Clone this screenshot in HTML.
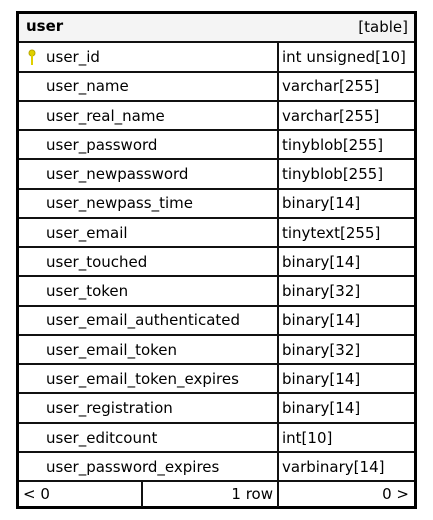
<!DOCTYPE html>
<html><head><meta charset="utf-8"><style>
body{margin:0;width:433px;height:520px;background:#fff;font-family:"DejaVu Sans","Liberation Sans",sans-serif;font-size:15px;color:#000;position:relative;overflow:hidden}
.o{position:absolute;left:16px;top:11px;width:401px;height:498px;border:3px solid #000;box-sizing:border-box;background:#fff}
.h{position:absolute;left:19px;top:14px;width:395px;height:28px;background:#f4f4f4}
.t{position:absolute;white-space:nowrap;line-height:16px}
.hl{position:absolute;left:19px;width:395px;height:2px;background:#111}
.vl{position:absolute;width:2px;background:#111}
</style></head><body>
<div class="o"></div>
<div class="h"></div>
<div class="hl" style="top:41px"></div>
<div class="t" style="left:26px;top:18px;font-weight:bold">user</div>
<div class="t" style="right:25px;top:19px">[table]</div>
<div class="vl" style="left:277px;top:42px;height:465px"></div>
<div class="vl" style="left:141px;top:481px;height:26px"></div>
<svg style="position:absolute;left:28px;top:49px" width="8" height="18"><circle cx="4" cy="4" r="3" fill="#e0d000" stroke="#b8a800"/><rect x="3" y="6" width="2" height="10" fill="#e0d000"/></svg>
<div id="rows"></div>
<script>
var r=[["user_id","int unsigned[10]"],["user_name","varchar[255]"],["user_real_name","varchar[255]"],["user_password","tinyblob[255]"],["user_newpassword","tinyblob[255]"],["user_newpass_time","binary[14]"],["user_email","tinytext[255]"],["user_touched","binary[14]"],["user_token","binary[32]"],["user_email_authenticated","binary[14]"],["user_email_token","binary[32]"],["user_email_token_expires","binary[14]"],["user_registration","binary[14]"],["user_editcount","int[10]"],["user_password_expires","varbinary[14]"]];
var h="";
for(var i=0;i<r.length;i++){var y=42+i*29.27;
h+='<div class="t" style="left:46px;top:'+(y+7)+'px">'+r[i][0]+'</div><div class="t" style="left:282px;top:'+(y+7)+'px">'+r[i][1]+'</div><div class="hl" style="top:'+Math.round(y+28.5)+'px"></div>';}
h+='<div class="t" style="left:23px;top:486px">&lt; 0</div><div class="t" style="right:160px;top:486px">1 row</div><div class="t" style="right:24px;top:486px">0 &gt;</div>';
document.getElementById("rows").innerHTML=h;
</script>
</body></html>
